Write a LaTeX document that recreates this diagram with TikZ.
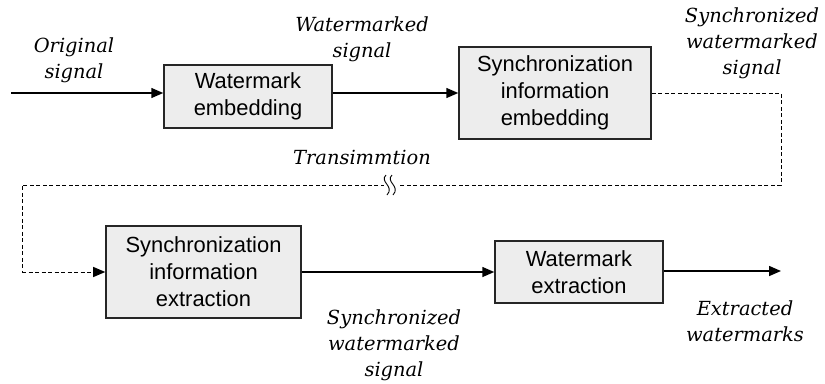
\documentclass[tikz,border=0pt]{standalone}
\usepackage{fontspec}
\setmainfont{Liberation Sans}
\newfontfamily\labfont{DejaVu Serif}
\usetikzlibrary{arrows.meta,calc}
\begin{document}
\begin{tikzpicture}[x=1bp,y=-1bp,
  blk/.style={draw=black!85,line width=1.5bp,fill=black!7,inner sep=0pt,align=center,
    font=\fontsize{22}{27}\selectfont},
  lab/.style={align=center,font=\labfont\itshape\fontsize{19.5}{26}\selectfont},
  sig/.style={line width=1.5bp,-{Triangle[length=12bp,width=10bp]}},
  dsh/.style={line width=1bp,dash pattern=on 4bp off 2.5bp}]
\useasboundingbox (0,0) rectangle (825,383);
\node[blk,minimum width=168bp,minimum height=63bp] (b1) at (248,96.5) {Watermark\\embedding};
\node[blk,minimum width=192bp,minimum height=92bp] (b2) at (555,93) {Synchronization\\information\\embedding};
\node[blk,minimum width=195bp,minimum height=92bp] (b3) at (203.5,272) {Synchronization\\information\\extraction};
\node[blk,minimum width=168bp,minimum height=62bp] (b4) at (579,272) {Watermark\\extraction};
\coordinate (in) at (11,93);
\coordinate (out) at (781,271);
\coordinate (c1) at (781,93);
\coordinate (c2) at (781,185);
\coordinate (c3) at (22,185);
\coordinate (c4) at (22,272);
\coordinate (brk) at (391,185);
\draw[sig] (in) -- (in -| b1.west);
\draw[sig] (b1.east |- in) -- (b2.west);
\draw[dsh] (b2.east) -- (c1) -- (c2) -- (c3) -- (c4);
\draw[dsh,-{Triangle[length=12bp,width=10bp]}] (c4) -- (b3.west);
\draw[sig] (b3.east) -- (b4.west);
\draw[sig] (b4.east |- out) -- (out);
\fill[white] ($(brk)+(-7,-9)$) rectangle ($(brk)+(7,9)$);
\draw[line width=0.9bp] (386,175) .. controls (379,182) and (395,186) .. (387,195)
  (392,175) .. controls (385,182) and (401,186) .. (393,195);
\node[lab] (l1) at (74,60) {Original\\signal};
\node[lab] (l2) at (362,39) {Watermarked\\signal};
\node[lab] (l3) at (752,43) {Synchronized\\watermarked\\signal};
\node[lab] (l4) at (362,157) {Transimmtion};
\node[lab] (l5) at (394,345) {Synchronized\\watermarked\\signal};
\node[lab] (l6) at (745,321) {Extracted\\watermarks};
\end{tikzpicture}
\end{document}
